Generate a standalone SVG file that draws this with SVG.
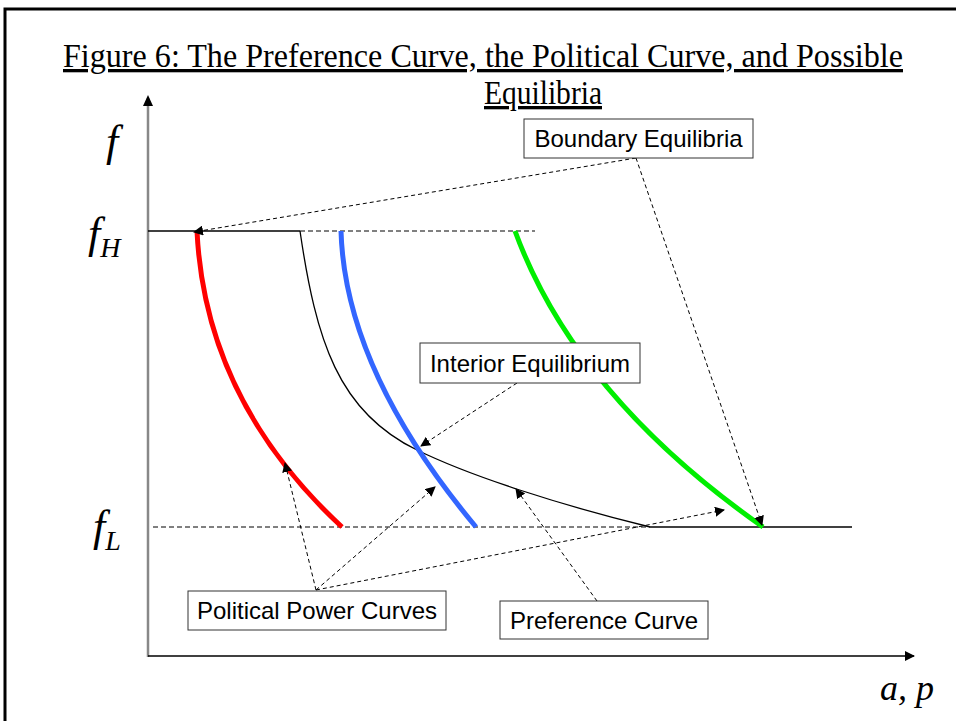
<svg xmlns="http://www.w3.org/2000/svg" width="956" height="721" viewBox="0 0 956 721">
<style>
.lbl{font-family:"Liberation Sans",Arial,sans-serif;font-size:24px;fill:#000}
.box{fill:#fff;stroke:#333;stroke-width:1}
.math{font-family:"Liberation Serif","Times New Roman",serif;font-style:italic;fill:#000}
.ttl{font-family:"Liberation Serif","Times New Roman",serif;font-size:33px;fill:#000;text-decoration:underline}
.dash{fill:none;stroke:#000;stroke-width:1;stroke-dasharray:5,3}
.ptr{fill:none;stroke:#000;stroke-width:1;stroke-dasharray:4,3;marker-end:url(#ah)}
</style>
<defs>
<marker id="ah" viewBox="0 0 10 10" refX="9" refY="5" markerWidth="10" markerHeight="10" markerUnits="userSpaceOnUse" orient="auto"><path d="M0,0 L10,5 L0,10 z" fill="#000"/></marker>
<marker id="ax" viewBox="0 0 10 10" refX="9" refY="5" markerWidth="10" markerHeight="10" markerUnits="userSpaceOnUse" orient="auto"><path d="M0,0 L10,5 L0,10 z" fill="#000"/></marker>
</defs>
<rect width="956" height="721" fill="#fff"/>
<path d="M5,721 V9 H956" fill="none" stroke="#000" stroke-width="3"/>
<text class="ttl" x="63" y="67" textLength="840" lengthAdjust="spacingAndGlyphs">Figure 6: The Preference Curve, the Political Curve, and Possible</text>
<text class="ttl" x="484" y="104" textLength="118" lengthAdjust="spacingAndGlyphs">Equilibria</text>
<g id="axes">
<line x1="148" y1="657" x2="148" y2="98" stroke="#888" stroke-width="2.5"/>
<path d="M143,106 L148,95 L153,106 z" fill="#000"/>
<line x1="148" y1="656" x2="914" y2="656" stroke="#000" stroke-width="1.5" marker-end="url(#ax)"/>
<text class="math" x="106" y="156" font-size="44">f</text>
<text class="math" x="88" y="248" font-size="44">f<tspan font-size="28" dy="9">H</tspan></text>
<text class="math" x="93" y="541" font-size="44">f<tspan font-size="28" dy="9">L</tspan></text>
<text class="math" x="880" y="700" font-size="36">a, p</text>
</g>
<g id="levels">
<line x1="148" y1="231" x2="300" y2="231" stroke="#000" stroke-width="1.5"/>
<line x1="300" y1="231" x2="535" y2="231" class="dash"/>
<line x1="153" y1="527" x2="650" y2="527" class="dash"/>
<line x1="650" y1="527" x2="852" y2="527" stroke="#000" stroke-width="1.5"/>
</g>
<g id="preference-curve">
<path d="M300,231 C316,340 338,412 417,450 C470,476 560,505 650,527" fill="none" stroke="#000" stroke-width="1.3"/>
</g>
<g id="red-curve"><path d="M197,231 Q205,400 342,527" fill="none" stroke="#ff0000" stroke-width="5"/></g>
<g id="blue-curve"><path d="M341,231 Q345,370 476,527" fill="none" stroke="#3366ff" stroke-width="5"/></g>
<g id="green-curve"><path d="M515,231 Q575,395 763,527" fill="none" stroke="#00ee00" stroke-width="5"/></g>
<g id="connectors">
<line class="ptr" x1="636" y1="158" x2="194" y2="232"/>
<line class="ptr" x1="636" y1="158" x2="762" y2="525"/>
<line class="ptr" x1="517" y1="383" x2="421" y2="446"/>
<line class="ptr" x1="316" y1="590" x2="285" y2="463"/>
<line class="ptr" x1="316" y1="590" x2="435" y2="487"/>
<line class="ptr" x1="316" y1="590" x2="724" y2="510"/>
<line class="ptr" x1="597" y1="601" x2="516" y2="489"/>
</g>
<g id="boundary-equilibria">
<rect class="box" x="524" y="119" width="229" height="39"/>
<text class="lbl" x="638.5" y="147" text-anchor="middle">Boundary Equilibria</text>
</g>
<g id="interior-equilibrium">
<rect class="box" x="420" y="343" width="220" height="40"/>
<text class="lbl" x="530" y="372" text-anchor="middle">Interior Equilibrium</text>
</g>
<g id="political-power-curves">
<rect class="box" x="188" y="591" width="258" height="39"/>
<text class="lbl" x="317" y="619" text-anchor="middle">Political Power Curves</text>
</g>
<g id="preference-curve-label">
<rect class="box" x="500" y="601" width="208" height="38"/>
<text class="lbl" x="604" y="629" text-anchor="middle">Preference Curve</text>
</g>
</svg>
